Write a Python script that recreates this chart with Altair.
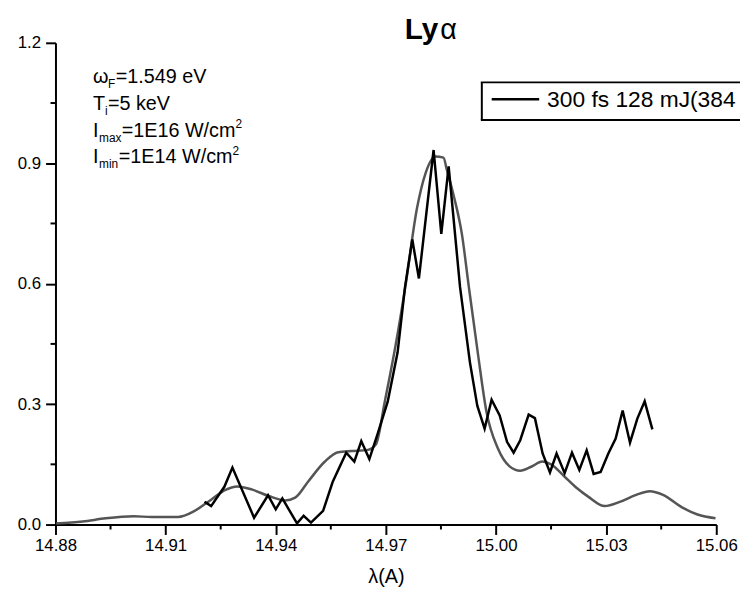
import altair as alt
import pandas as pd

# ---- data ----
black_x = [14.9206, 14.9224, 14.9260, 14.9282, 14.9341, 14.9379, 14.9400, 14.9418, 14.9458, 14.9476,
           14.9496, 14.9529, 14.9555, 14.9592, 14.9614, 14.9633, 14.9655, 14.9678, 14.9705, 14.9732,
           14.9752, 14.9772, 14.9790, 14.9830, 14.9851, 14.9871, 14.9902, 14.9929, 14.9949, 14.9969,
           14.9988, 15.0010, 15.0030, 15.0048, 15.0066, 15.0089, 15.0106, 15.0127, 15.0147, 15.0165,
           15.0187, 15.0207, 15.0227, 15.0247, 15.0266, 15.0285, 15.0306, 15.0326, 15.0345, 15.0365,
           15.0385, 15.0405, 15.0426]
black_y = [0.057, 0.046, 0.094, 0.142, 0.017, 0.073, 0.038, 0.065, 0.003, 0.022,
           0.005, 0.034, 0.106, 0.179, 0.157, 0.208, 0.163, 0.227, 0.306, 0.429,
           0.591, 0.710, 0.613, 0.933, 0.724, 0.892, 0.592, 0.404, 0.296, 0.239,
           0.311, 0.272, 0.206, 0.179, 0.210, 0.274, 0.265, 0.177, 0.130, 0.177,
           0.128, 0.179, 0.136, 0.185, 0.126, 0.131, 0.177, 0.214, 0.284, 0.204,
           0.264, 0.307, 0.237]

gray_x = [14.8802, 14.8874, 14.8937, 14.9013, 14.9062, 14.9134, 14.9179, 14.9224, 14.9260, 14.9296,
          14.9336, 14.9381, 14.9426, 14.9453, 14.9489, 14.9534, 14.9570, 14.9606, 14.9651, 14.9673,
          14.9697, 14.9727, 14.9753, 14.9785, 14.9808, 14.9835, 14.9857, 14.9866, 14.9884, 14.9907,
          14.9926, 14.9951, 14.9974, 15.0005, 15.0037, 15.0066, 15.0096, 15.0126, 15.0150, 15.0185,
          15.0220, 15.0252, 15.0296, 15.0339, 15.0382, 15.0419, 15.0455, 15.0508, 15.0549, 15.0598]
gray_y = [0.0025, 0.0074, 0.0155, 0.0205, 0.019, 0.019, 0.034, 0.062, 0.085, 0.095,
          0.087, 0.071, 0.060, 0.067, 0.108, 0.157, 0.180, 0.183, 0.186, 0.200,
          0.306, 0.449, 0.592, 0.789, 0.875, 0.917, 0.914, 0.884, 0.822, 0.724,
          0.592, 0.424, 0.281, 0.190, 0.145, 0.134, 0.144, 0.157, 0.150, 0.121,
          0.091, 0.069, 0.046, 0.057, 0.074, 0.083, 0.074, 0.042, 0.025, 0.0155]

x_ticks = [14.88, 14.91, 14.94, 14.97, 15.00, 15.03, 15.06]
x_minor = [14.895, 14.925, 14.955, 14.985, 15.015, 15.045]
y_ticks = [0.0, 0.3, 0.6, 0.9, 1.2]
y_minor = [0.15, 0.45, 0.75, 1.05]

legend_label = "300 fs 128 mJ(384"
title_main = "Ly"
title_greek = "α"
x_title = "λ(A)"

black_df = pd.DataFrame({"x": black_x, "y": black_y})
gray_df = pd.DataFrame({"x": gray_x, "y": gray_y})
xminor_df = pd.DataFrame({"x": x_minor})
yminor_df = pd.DataFrame({"y": y_minor})
one = pd.DataFrame({"k": [0]})

W, H = 668, 487
FONT = "Liberation Sans"

x_scale = alt.Scale(domain=[14.88, 15.06], nice=False, zero=False)
y_scale = alt.Scale(domain=[0, 1.2], nice=False)

x_axis = alt.Axis(values=x_ticks, format=".2f", tickSize=10, tickWidth=2, domainWidth=2,
                  domainColor="black", tickColor="black", labelColor="black", grid=False,
                  labelFontSize=17, labelFont=FONT, labelPadding=3, labelFlush=False,
                  titleFontSize=20, titleFont=FONT, titleFontWeight="normal", titleColor="black",
                  titlePadding=14)
y_axis = alt.Axis(values=y_ticks, format=".1f", tickSize=10, tickWidth=2, domainWidth=2,
                  domainColor="black", tickColor="black", labelColor="black", grid=False,
                  labelFontSize=17, labelFont=FONT, labelPadding=5, labelFlush=False)

X = alt.X("x:Q", scale=x_scale, axis=x_axis, title=x_title)
Y = alt.Y("y:Q", scale=y_scale, axis=y_axis, title="")

gray = alt.Chart(gray_df).mark_line(color="#555555", strokeWidth=2.5, interpolate="monotone").encode(x=X, y=Y)
black = alt.Chart(black_df).mark_line(color="black", strokeWidth=2.5).encode(x=X, y=Y)

xminor = alt.Chart(xminor_df).mark_rule(color="black", strokeWidth=2).encode(
    x=X, y=alt.value(H), y2=alt.value(H + 5))
yminor = alt.Chart(yminor_df).mark_rule(color="black", strokeWidth=2).encode(
    y=Y, x=alt.value(-5), x2=alt.value(0))


def txt(s, x, y, size, weight="normal", font=FONT):
    return alt.Chart(one).mark_text(text=s, x=x, y=y, fontSize=size, font=font, fontWeight=weight,
                                    align="left", baseline="alphabetic", color="black")


def hrule(x1, x2, y, w=2):
    return alt.Chart(one).mark_rule(color="black", strokeWidth=w).encode(
        x=alt.value(x1), x2=alt.value(x2), y=alt.value(y))


MAIN, SUB = 20, 12
X0 = 38
texts = [
    txt(title_main, 353, -4, 30, "bold"),
    txt(title_greek, 389, -4, 29),
    # line 1
    txt("ω", X0, 41, MAIN),
    txt("F", X0 + 15, 46, SUB),
    txt("=1.549 eV", X0 + 23, 41, MAIN),
    # line 2
    txt("T", X0, 68, MAIN),
    txt("i", X0 + 12, 73, SUB),
    txt("=5 keV", X0 + 15, 68, MAIN),
    # line 3
    txt("I", X0, 95, MAIN),
    txt("max", X0 + 6, 100, SUB),
    txt("=1E16 W/cm", X0 + 29, 95, MAIN),
    txt("2", X0 + 144, 86, SUB),
    # line 4
    txt("I", X0, 122, MAIN),
    txt("min", X0 + 6, 127, SUB),
    txt("=1E14 W/cm", X0 + 26, 122, MAIN),
    txt("2", X0 + 141, 113, SUB),
]

# legend: box running off the right edge, so only top, bottom and left sides show
legend_fill = alt.Chart(one).mark_rect(fill="white").encode(
    x=alt.value(431), x2=alt.value(800), y=alt.value(40), y2=alt.value(78))
legend_top = hrule(430, 800, 40)
legend_bottom = hrule(430, 800, 78)
legend_left = alt.Chart(one).mark_rule(color="black", strokeWidth=2).encode(
    x=alt.value(431), y=alt.value(40), y2=alt.value(78))
legend_line = hrule(441, 489, 57, 2.5)
legend_text = txt(legend_label, 497, 65, 23)

chart = alt.layer(gray, black, xminor, yminor, *texts, legend_fill, legend_top, legend_bottom,
                  legend_left, legend_line, legend_text).properties(
    width=W, height=H,
    padding={"left": 48, "top": 32, "right": 24, "bottom": 66},
    autosize=alt.AutoSizeParams(type="none"),
    background="white",
).configure_view(stroke="transparent")

chart.save("out.html", embed_options={"renderer": "svg", "actions": False})
